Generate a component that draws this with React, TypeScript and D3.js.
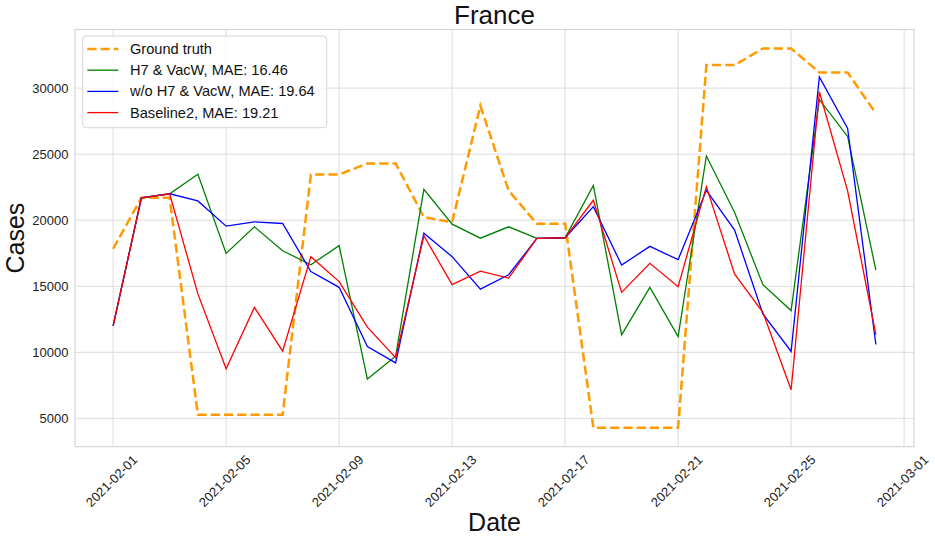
import * as React from "react";
import * as d3 from "d3";

// values, one per day 2021-02-01 .. 2021-02-28
const startDay = "2021-02-01";
const endDay = "2021-03-01";

const groundTruth = [17840, 21690, 21690, 5270, 5270, 5270, 5270, 23450, 23450, 24300, 24300, 20230, 19850, 28660,
  22240, 19730, 19730, 4290, 4290, 4290, 4290, 31740, 31740, 33000, 33000, 31180, 31180, 28080];
const h7VacW = [12000, 21700, 22000, 23480, 17490, 19500, 17690, 16630, 18070, 7970, 9700, 22340, 19700, 18640,
  19500, 18620, 18670, 22640, 11320, 14920, 11190, 24860, 20580, 15120, 13160, 29120, 26340, 16230];
const withoutH7VacW = [12000, 21700, 22000, 21460, 19550, 19880, 19750, 16120, 14920, 10440, 9200, 19020, 17240, 14780,
  15870, 18620, 18670, 21030, 16600, 18020, 17010, 22260, 19250, 12900, 10060, 30850, 26950, 10590];
const baseline2 = [12000, 21700, 22000, 14420, 8750, 13400, 10090, 17240, 15350, 11900, 9600, 18820, 15120, 16140,
  15620, 18620, 18670, 21510, 14540, 16740, 14970, 22540, 15920, 13030, 7170, 29720, 22220, 11340];

const seriesNames = ["Ground truth", "H7 & VacW, MAE: 16.46", "w/o H7 & VacW, MAE: 19.64", "Baseline2, MAE: 19.21"];
const seriesColors = ["#ff9a00", "#008000", "#0000ff", "#ff0000"];

const xTickLabels = ["2021-02-01", "2021-02-05", "2021-02-09", "2021-02-13", "2021-02-17", "2021-02-21", "2021-02-25", "2021-03-01"];
const yTickValues = [5000, 10000, 15000, 20000, 25000, 30000];

const W = 935, H = 537;
const plot = {left: 75, right: 914, top: 29.5, bottom: 446.7};
const font = "'Liberation Sans', Arial, sans-serif";

export default function App() {
  const parse = d3.utcParse("%Y-%m-%d");
  const days = d3.utcDay.range(parse(startDay)!, parse(endDay)!);
  const allSeries = [groundTruth, h7VacW, withoutH7VacW, baseline2];

  // matplotlib style 5% margins
  const [d0, d1] = d3.extent(days) as [Date, Date];
  const dx = (+d1 - +d0) * 0.05;
  const x = d3.scaleUtc().domain([new Date(+d0 - dx), new Date(+d1 + dx)]).range([plot.left, plot.right]);
  const allVals = allSeries.flat();
  const [v0, v1] = d3.extent(allVals) as [number, number];
  const dv = (v1 - v0) * 0.05;
  const y = d3.scaleLinear().domain([v0 - dv, v1 + dv]).range([plot.bottom, plot.top]);

  const line = d3.line<number>().x((_, i) => x(days[i])).y(d => y(d));

  const gridColor = "#dcdcdc";
  const legendRows = [49, 70.2, 91.4, 112.6];

  return (
    <svg width={W} height={H} style={{position: "absolute", left: 0, top: 0, background: "#fff"}} fontFamily={font}>
      <rect x={0} y={0} width={W} height={H} fill="#fff" />
      {/* grid */}
      {xTickLabels.map(t => (
        <line key={t} x1={x(parse(t)!)} x2={x(parse(t)!)} y1={plot.top} y2={plot.bottom} stroke={gridColor} strokeWidth={1} />
      ))}
      {yTickValues.map(v => (
        <line key={v} x1={plot.left} x2={plot.right} y1={y(v)} y2={y(v)} stroke={gridColor} strokeWidth={1} />
      ))}
      <rect x={plot.left} y={plot.top} width={plot.right - plot.left} height={plot.bottom - plot.top}
            fill="none" stroke="#d6d6d6" strokeWidth={1.2} />

      {/* lines */}
      {allSeries.map((s, i) => (
        <path key={i} d={line(s)!} fill="none" stroke={seriesColors[i]}
              strokeWidth={i === 0 ? 2.5 : 1.3}
              strokeDasharray={i === 0 ? "9.25 4" : undefined} />
      ))}

      {/* y ticks */}
      {yTickValues.map(v => (
        <text key={v} x={68.5} y={y(v)} textAnchor="end" dominantBaseline="central" fontSize={13} fill="#222">{v}</text>
      ))}
      {/* x ticks */}
      {xTickLabels.map(t => {
        const cx = x(parse(t)!) - 1.5, cy = 481;
        return (
          <text key={t} x={cx} y={cy} textAnchor="middle" dominantBaseline="central" fontSize={13} fill="#222"
                transform={`rotate(-45 ${cx} ${cy})`}>{t}</text>
        );
      })}

      {/* titles */}
      <text x={(plot.left + plot.right) / 2} y={24} textAnchor="middle" fontSize={26} fill="#111">France</text>
      <text x={(plot.left + plot.right) / 2} y={530.7} textAnchor="middle" fontSize={25} fill="#111">Date</text>
      <text transform={`translate(23.5 ${(plot.top + plot.bottom) / 2}) rotate(-90)`} textAnchor="middle" fontSize={25} fill="#111">Cases</text>

      {/* legend */}
      <rect x={82.7} y={36} width={244} height={91.7} rx={3.5} fill="#fff" fillOpacity={0.8} stroke="#d6d6d6" strokeWidth={1} />
      {seriesNames.map((n, i) => (
        <g key={n}>
          <line x1={87.3} x2={118.3} y1={legendRows[i]} y2={legendRows[i]} stroke={seriesColors[i]}
                strokeWidth={i === 0 ? 2.5 : 1.3} strokeDasharray={i === 0 ? "9.25 4" : undefined} />
          <text x={130} y={legendRows[i]} dominantBaseline="central" fontSize={14.6} fill="#111">{n}</text>
        </g>
      ))}
    </svg>
  );
}
